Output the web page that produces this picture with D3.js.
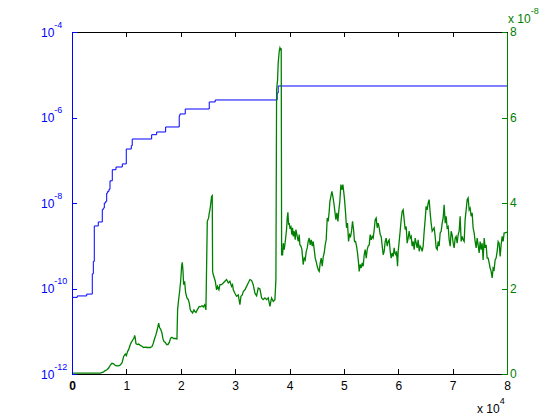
<!DOCTYPE html>
<html>
<head>
<meta charset="utf-8">
<script src="https://cdn.jsdelivr.net/npm/d3@7"></script>
<style>
  body { margin: 0; background: #fff; }
  svg { display: block; font-family: "Liberation Sans", Arial, sans-serif; }
</style>
</head>
<body>
<svg id="chart"></svg>
<script>
// x in units of 1e4
const xTicks = [0, 1, 2, 3, 4, 5, 6, 7, 8];
const leftTicks = [1e-12, 1e-10, 1e-8, 1e-6, 1e-4];
const rightTicks = [0, 2, 4, 6, 8]; // units of 1e-8

// blue staircase (value holds until next x)
const blueX = [0, 0.097, 0.270, 0.373, 0.392, 0.410, 0.483, 0.557, 0.575, 0.594, 0.619, 0.638, 0.656, 0.680, 0.699, 0.741, 0.809, 0.925, 0.998, 1.090, 1.108, 1.465, 1.557, 1.722, 1.972, 1.985, 2.083, 2.524, 2.634, 3.773, 3.792, 8];
const blueY = [6.2e-11, 6.7e-11, 7.4e-11, 2.2e-10, 4.3e-10, 2.9e-9, 3.6e-9, 7.0e-9, 7.6e-9, 1.0e-8, 1.09e-8, 1.7e-8, 1.87e-8, 2.1e-8, 3.3e-8, 6.0e-8, 6.95e-8, 8.2e-8, 1.83e-7, 2.19e-7, 3.14e-7, 3.96e-7, 4.58e-7, 6.0e-7, 1.10e-6, 1.21e-6, 1.58e-6, 2.31e-6, 2.57e-6, 3.74e-6, 5.46e-6, 5.46e-6];

// green trace, y in units of 1e-8
const greenX = [
  0, 0.521, 0.582, 0.613, 0.643, 0.674, 0.705, 0.735, 0.766, 0.797, 0.827, 0.858, 0.888, 0.919, 0.950, 0.980, 0.999,
  1.023, 1.042, 1.072, 1.091, 1.115, 1.140, 1.152, 1.164, 1.176, 1.201, 1.225, 1.256, 1.287, 1.317, 1.348, 1.379, 1.409,
  1.440, 1.471, 1.495, 1.520, 1.544, 1.569, 1.593, 1.612, 1.630, 1.654, 1.673, 1.691, 1.716, 1.740, 1.765, 1.789, 1.814,
  1.838, 1.869, 1.900, 1.930, 1.942, 1.961, 1.979, 1.998, 2.016, 2.028, 2.040, 2.053, 2.071, 2.089, 2.114, 2.138, 2.157,
  2.175, 2.194, 2.200, 2.218, 2.243, 2.261, 2.279, 2.304, 2.322, 2.340, 2.365, 2.390, 2.414, 2.439, 2.463, 2.488, 2.512,
  2.525, 2.537, 2.549, 2.567, 2.579, 2.586, 2.598, 2.616, 2.635, 2.659, 2.677, 2.702, 2.721, 2.751, 2.782, 2.812, 2.843,
  2.874, 2.904, 2.935, 2.953, 2.966, 2.996, 3.027, 3.058, 3.088, 3.107, 3.131, 3.150, 3.180, 3.211, 3.241, 3.272, 3.303,
  3.333, 3.364, 3.395, 3.425, 3.456, 3.487, 3.517, 3.548, 3.578, 3.609, 3.640, 3.670, 3.701, 3.732, 3.750, 3.763, 3.781,
  3.792, 3.811, 3.824, 3.836, 3.848, 3.855, 3.873, 3.885, 3.903, 3.922, 3.946, 3.958, 3.971, 3.983, 3.995, 4.007, 4.026,
  4.044, 4.056, 4.069, 4.087, 4.105, 4.118, 4.142, 4.161, 4.179, 4.191, 4.210, 4.228, 4.252, 4.271, 4.289, 4.308, 4.326,
  4.344, 4.363, 4.381, 4.400, 4.418, 4.436, 4.455, 4.473, 4.491, 4.510, 4.528, 4.547, 4.565, 4.583, 4.602, 4.620, 4.638,
  4.657, 4.675, 4.694, 4.712, 4.730, 4.743, 4.761, 4.779, 4.798, 4.816, 4.835, 4.853, 4.871, 4.890, 4.908, 4.926, 4.945,
  4.963, 4.982, 5.000, 5.012, 5.031, 5.049, 5.067, 5.086, 5.104, 5.123, 5.141, 5.159, 5.178, 5.196, 5.215, 5.233, 5.251,
  5.270, 5.282, 5.300, 5.319, 5.337, 5.355, 5.374, 5.392, 5.411, 5.429, 5.447, 5.466, 5.484, 5.503, 5.521, 5.539, 5.558,
  5.576, 5.594, 5.613, 5.631, 5.650, 5.668, 5.686, 5.705, 5.723, 5.741, 5.760, 5.778, 5.797, 5.815, 5.833, 5.852, 5.870,
  5.888, 5.907, 5.925, 5.938, 5.956, 5.968, 5.987, 5.999, 6.017, 6.035, 6.054, 6.072, 6.091, 6.109, 6.127, 6.146, 6.164,
  6.182, 6.201, 6.219, 6.238, 6.256, 6.274, 6.293, 6.311, 6.330, 6.348, 6.366, 6.385, 6.403, 6.421, 6.440, 6.458, 6.477,
  6.495, 6.513, 6.532, 6.550, 6.568, 6.587, 6.605, 6.624, 6.642, 6.660, 6.679, 6.697, 6.716, 6.734, 6.752, 6.771, 6.789,
  6.808, 6.826, 6.844, 6.863, 6.881, 6.899, 6.918, 6.936, 6.955, 6.973, 6.991, 7.010, 7.028, 7.047, 7.065, 7.083, 7.102,
  7.120, 7.138, 7.157, 7.175, 7.194, 7.212, 7.230, 7.249, 7.267, 7.285, 7.304, 7.322, 7.341, 7.359, 7.377, 7.396, 7.414,
  7.433, 7.451, 7.469, 7.488, 7.506, 7.524, 7.543, 7.561, 7.580, 7.598, 7.616, 7.635, 7.653, 7.672, 7.690, 7.708, 7.727,
  7.745, 7.763, 7.782, 7.800, 7.819, 7.837, 7.855, 7.874, 7.892, 7.911, 7.929, 7.947, 7.966, 8
];
const greenY = [
  0.02, 0.02, 0.05, 0.08, 0.10, 0.14, 0.21, 0.25, 0.24, 0.20, 0.19, 0.19, 0.21, 0.26, 0.41, 0.47, 0.43,
  0.53, 0.57, 0.69, 0.74, 0.79, 0.84, 0.90, 0.84, 0.71, 0.69, 0.70, 0.67, 0.65, 0.62, 0.63, 0.62, 0.62,
  0.62, 0.64, 0.72, 0.83, 0.92, 1.04, 1.19, 1.08, 1.05, 0.96, 0.82, 0.76, 0.74, 0.69, 0.69, 0.74, 0.84,
  0.86, 0.83, 0.83, 0.82, 1.50, 1.74, 1.93, 2.17, 2.52, 2.61, 2.44, 2.09, 2.17, 1.91, 1.78, 1.74, 1.66,
  1.50, 1.46, 1.46, 1.43, 1.50, 1.46, 1.44, 1.50, 1.54, 1.58, 1.57, 1.60, 1.57, 1.62, 1.50, 3.57, 3.65,
  3.77, 3.84, 3.96, 4.15, 4.17, 2.40, 2.32, 2.25, 2.17, 1.97, 2.05, 1.97, 2.09, 2.09, 2.13, 2.17, 2.21,
  2.13, 2.17, 2.05, 2.09, 1.97, 1.89, 1.82, 1.85, 1.62, 1.82, 1.85, 1.93, 1.97, 2.05, 2.13, 2.21, 2.19,
  2.09, 1.89, 1.83, 2.01, 1.99, 1.78, 1.74, 1.78, 1.74, 1.78, 1.58, 1.78, 1.70, 1.74, 2.21, 6.65, 6.88,
  7.27, 7.55, 7.63, 7.59, 7.60, 2.79, 2.79, 3.06, 2.91, 3.10, 3.38, 3.65, 3.78, 3.49, 3.53, 3.42, 3.45,
  3.26, 3.42, 3.22, 3.34, 3.14, 3.38, 3.22, 3.10, 3.26, 3.02, 2.99, 2.91, 2.56, 2.71, 2.67, 2.87, 2.95,
  3.10, 3.18, 3.02, 3.14, 2.99, 3.10, 2.91, 2.71, 2.63, 2.52, 2.44, 2.40, 2.60, 2.71, 2.52, 2.74, 2.83,
  3.02, 3.14, 3.65, 3.57, 3.80, 4.04, 4.15, 4.27, 4.15, 4.00, 3.80, 3.61, 3.77, 3.57, 3.84, 4.04, 4.43,
  4.31, 4.43, 4.23, 4.08, 3.77, 3.42, 3.53, 3.10, 3.26, 3.22, 3.34, 3.57, 3.38, 3.10, 3.10, 2.99, 2.83,
  2.60, 2.40, 2.56, 2.48, 2.60, 2.52, 2.79, 2.91, 2.71, 2.91, 2.99, 3.02, 3.26, 3.14, 3.22, 3.18, 3.38,
  3.61, 3.65, 3.42, 3.53, 3.42, 3.26, 3.22, 2.99, 2.79, 2.87, 3.10, 3.18, 2.99, 3.10, 3.14, 2.87, 2.71,
  2.83, 2.75, 2.95, 2.83, 2.79, 2.87, 2.52, 2.87, 3.10, 3.34, 3.61, 3.80, 3.84, 3.61, 3.38, 3.45, 3.06,
  3.18, 3.34, 3.18, 3.22, 2.99, 3.10, 2.91, 3.18, 3.06, 2.95, 3.14, 2.87, 2.99, 2.95, 2.87, 2.99, 3.34,
  3.61, 3.92, 3.84, 4.00, 4.08, 3.77, 3.53, 3.34, 3.38, 3.42, 3.22, 2.95, 2.91, 3.10, 2.99, 3.30, 3.34,
  3.53, 3.65, 3.96, 3.53, 3.69, 3.42, 3.45, 3.14, 2.99, 3.34, 3.26, 3.06, 2.95, 3.18, 3.22, 3.06, 3.26,
  3.34, 3.69, 3.10, 3.22, 3.14, 3.10, 3.61, 3.84, 4.08, 4.12, 3.84, 3.88, 3.69, 3.77, 3.42, 3.30, 3.10,
  2.95, 3.18, 3.02, 2.83, 3.10, 2.91, 3.06, 2.67, 3.18, 2.95, 3.02, 2.71, 2.71, 2.60, 2.48, 2.40, 2.25,
  2.48, 2.44, 2.67, 2.71, 2.87, 3.10, 3.06, 2.75, 3.02, 3.22, 3.10, 3.30, 3.30, 3.32
];

const W = 560, H = 420;
const margin = { top: 32, right: 53, bottom: 46, left: 72 };
const width = W - margin.left - margin.right;
const height = H - margin.top - margin.bottom;

const blue = "#0000ff", green = "#008000";

const svg = d3.select("#chart").attr("width", W).attr("height", H);

const x = d3.scaleLinear().domain([0, 8]).range([0, width]);
const yL = d3.scaleLog().domain([1e-12, 1e-4]).range([height, 0]);
const yR = d3.scaleLinear().domain([0, 8]).range([height, 0]);

const g = svg.append("g").attr("transform", `translate(${margin.left},${margin.top})`);

// blue series
const blueData = blueX.map((d, i) => ({ x: d, y: blueY[i] }));
g.append("path")
  .datum(blueData)
  .attr("fill", "none")
  .attr("stroke", blue)
  .attr("stroke-width", 1)
  .attr("d", d3.line().x(d => x(d.x)).y(d => yL(d.y)).curve(d3.curveStepAfter));

// green series
const greenData = greenX.map((d, i) => ({ x: d, y: greenY[i] }));
g.append("path")
  .datum(greenData)
  .attr("fill", "none")
  .attr("stroke", green)
  .attr("stroke-width", 1.3)
  .attr("stroke-linejoin", "miter")
  .attr("d", d3.line().x(d => x(d.x)).y(d => yR(d.y)));

function styleAxis(sel, color) {
  sel.select(".domain").attr("stroke", color).attr("shape-rendering", "crispEdges");
  sel.selectAll(".tick line").attr("stroke", color).attr("shape-rendering", "crispEdges");
  sel.selectAll(".tick text").attr("fill", color).style("font-size", "12px");
}

// top axis (ticks only)
g.append("g")
  .call(d3.axisTop(x).tickValues(xTicks).tickSizeInner(-5).tickSizeOuter(0).tickFormat(""))
  .call(s => styleAxis(s, "#000"));

// bottom axis
const xAxis = g.append("g")
  .attr("transform", `translate(0,${height})`)
  .call(d3.axisBottom(x).tickValues(xTicks).tickSizeInner(-5).tickSizeOuter(0).tickPadding(7))
  .call(s => styleAxis(s, "#000"));
xAxis.selectAll(".tick text").filter(d => d === 0).style("font-weight", "bold");

// left log axis
const leftAxis = g.append("g")
  .call(d3.axisLeft(yL).tickValues(leftTicks).tickSizeInner(-5).tickSizeOuter(0))
  .call(s => styleAxis(s, blue));
leftAxis.selectAll(".tick text")
  .attr("text-anchor", "start")
  .attr("x", -31)
  .attr("dy", "0.36em")
  .text(null)
  .each(function(d) {
    const t = d3.select(this);
    t.append("tspan").text("10");
    t.append("tspan").attr("dy", -9).style("font-size", "9px").text(Math.round(Math.log10(d)));
  });

// right linear axis
g.append("g")
  .attr("transform", `translate(${width},0)`)
  .call(d3.axisRight(yR).tickValues(rightTicks).tickSizeInner(-5).tickSizeOuter(0).tickPadding(3))
  .call(s => styleAxis(s, green));

// exponent labels
const xExp = svg.append("text")
  .attr("x", 477)
  .attr("y", 413)
  .style("font-size", "12px")
  .attr("fill", "#000");
xExp.append("tspan").text("x 10");
xExp.append("tspan").attr("dy", -9).style("font-size", "9px").text("4");

const yExp = svg.append("text")
  .attr("x", 508)
  .attr("y", 23)
  .style("font-size", "12px")
  .attr("fill", green);
yExp.append("tspan").text("x 10");
yExp.append("tspan").attr("dy", -9).style("font-size", "9px").text("-8");
</script>
</body>
</html>
